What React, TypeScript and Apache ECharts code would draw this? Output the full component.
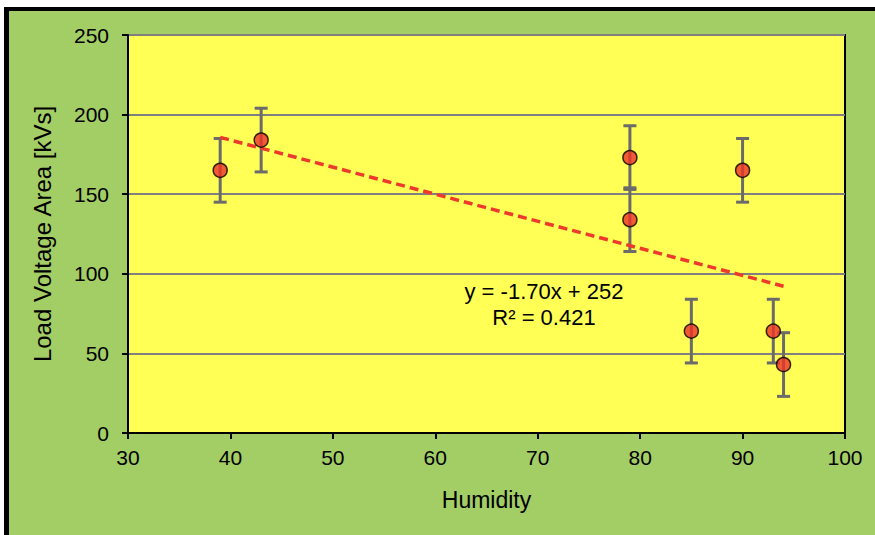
import React, { useEffect, useRef } from "react";
import * as echarts from "echarts";

const humidity = [39, 43, 79, 79, 90, 85, 93, 94];
const loadArea = [165, 184, 173, 134, 165, 64, 64, 43];
const errorAmount = [20, 20, 20, 20, 20, 20, 20, 20];
const trendSlope = -1.7;
const trendIntercept = 252;
const trendRange = [39, 94];
const xTicks = [30, 100, 10];
const yTicks = [0, 250, 50];
const equationText = "y = -1.70x + 252";
const r2Text = "R² = 0.421";

const FONT = "'Liberation Sans', Arial, sans-serif";

export default function App() {
  const ref = useRef<HTMLDivElement>(null);
  useEffect(() => {
    if (!ref.current) return;
    const chart = echarts.init(ref.current, null, { renderer: "svg" });
    const points = humidity.map((x, i) => [x, loadArea[i]]);
    const errs = humidity.map((x, i) => [x, loadArea[i] - errorAmount[i], loadArea[i] + errorAmount[i]]);
    const trend = trendRange.map((x) => [x, trendSlope * x + trendIntercept]);
    chart.setOption({
      animation: false,
      backgroundColor: "transparent",
      grid: {
        left: 128,
        top: 35,
        width: 717,
        height: 398,
        show: true,
        backgroundColor: "#FFFF55",
        borderColor: "#000",
        borderWidth: 2,
      },
      xAxis: {
        type: "value",
        min: xTicks[0],
        max: xTicks[1],
        interval: xTicks[2],
        name: "Humidity",
        nameLocation: "middle",
        nameGap: 55,
        nameTextStyle: { fontFamily: FONT, fontSize: 23, color: "#000" },
        axisLine: { show: true, lineStyle: { color: "#000", width: 2 } },
        axisTick: { show: true, length: 6, lineStyle: { color: "#000", width: 2 } },
        axisLabel: { fontFamily: FONT, fontSize: 21, color: "#000", margin: 14 },
        splitLine: { show: false },
      },
      yAxis: {
        type: "value",
        min: yTicks[0],
        max: yTicks[1],
        interval: yTicks[2],
        name: "Load Voltage Area [kVs]",
        nameLocation: "middle",
        nameGap: 74,
        nameTextStyle: { fontFamily: FONT, fontSize: 24, color: "#000" },
        axisLine: { show: true, lineStyle: { color: "#000", width: 2 } },
        axisTick: { show: true, length: 6, lineStyle: { color: "#000", width: 2 } },
        axisLabel: { fontFamily: FONT, fontSize: 21, color: "#000", margin: 19 },
        splitLine: { show: true, lineStyle: { color: "#808080", width: 2 } },
      },
      series: [
        {
          type: "custom",
          z: 2,
          data: errs,
          renderItem: (params: any, api: any) => {
            const x = api.value(0);
            const lo = api.coord([x, api.value(1)]);
            const hi = api.coord([x, api.value(2)]);
            const cw = 6.5;
            const style = { stroke: "#6b6b6b", lineWidth: 3 };
            return {
              type: "group",
              children: [
                { type: "line", shape: { x1: lo[0], y1: lo[1], x2: hi[0], y2: hi[1] }, style },
                { type: "line", shape: { x1: lo[0] - cw, y1: lo[1], x2: lo[0] + cw, y2: lo[1] }, style },
                { type: "line", shape: { x1: hi[0] - cw, y1: hi[1], x2: hi[0] + cw, y2: hi[1] }, style },
              ],
            };
          },
        },
        {
          type: "line",
          z: 3,
          data: trend,
          symbol: "none",
          lineStyle: { color: "#EE3A2C", width: 3.5, type: [9, 5] },
        },
        {
          type: "scatter",
          z: 4,
          data: points,
          symbol: "circle",
          symbolSize: 14,
          itemStyle: { color: "#EE3228", borderColor: "#000", borderWidth: 1.5 },
        },
      ],
      graphic: [
        {
          type: "text",
          x: 544,
          y: 291,
          style: {
            text: equationText,
            fontFamily: FONT,
            fontSize: 22,
            fill: "#000",
            align: "center",
            verticalAlign: "middle",
          },
        },
        {
          type: "text",
          x: 544,
          y: 317,
          style: {
            text: r2Text,
            fontFamily: FONT,
            fontSize: 22,
            fill: "#000",
            align: "center",
            verticalAlign: "middle",
          },
        },
      ],
    });
    return () => chart.dispose();
  }, []);
  return (
    <div
      style={{
        position: "fixed",
        left: 0,
        top: 0,
        width: 875,
        height: 535,
        background: "#fff",
        overflow: "hidden",
      }}
    >
      <div
        style={{
          position: "absolute",
          left: 4,
          top: 7,
          width: 900,
          height: 600,
          background: "#A3CD65",
          borderLeft: "5px solid #000",
          borderTop: "4px solid #000",
        }}
      />
      <div ref={ref} style={{ position: "absolute", left: 0, top: 0, width: 875, height: 535 }} />
    </div>
  );
}
